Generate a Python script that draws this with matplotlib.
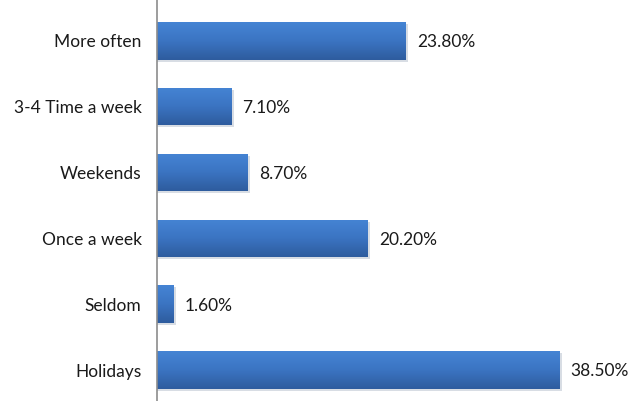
import numpy as np
import matplotlib
matplotlib.use("Agg")
import matplotlib.pyplot as plt
from matplotlib.colors import LinearSegmentedColormap

# Frequency categories, top to bottom, and their shares (%)
categories = ["More often", "3-4 Time a week", "Weekends", "Once a week", "Seldom", "Holidays"]
shares = [23.8, 7.1, 8.7, 20.2, 1.6, 38.5]
value_labels = ["23.80%", "7.10%", "8.70%", "20.20%", "1.60%", "38.50%"]

plt.rcParams["font.family"] = ["Lato", "DejaVu Sans"]

fig = plt.figure(figsize=(6.3, 4.01), dpi=100)
ax = fig.add_axes([0.249, 0.0, 0.751, 1.0])

y = np.arange(len(categories))
bar_h = 0.57
grad = LinearSegmentedColormap.from_list("bar", ["#4584d4", "#3b74c2", "#2e5c9e"])

bars = ax.barh(y, shares, height=bar_h, color="none", edgecolor="none", zorder=2)
for b in bars:
    x0, y0 = b.get_x(), b.get_y()
    w, h = b.get_width(), b.get_height()
    # soft drop shadow
    ax.add_patch(plt.Rectangle((x0, y0 + 0.03), w + 0.25, h, color="#bfc7d2",
                               alpha=0.6, zorder=1, lw=0))
    img = ax.imshow(np.linspace(0, 1, 64).reshape(-1, 1), cmap=grad, aspect="auto",
                    extent=(x0, x0 + w, y0 + h, y0), zorder=2)
    img.set_clip_path(b)

for yi, v, lab in zip(y, shares, value_labels):
    ax.text(v + 1.1, yi + 0.02, lab, va="center", ha="left", fontsize=12.5, color="#1a1a1a")

ax.set_xlim(0, 45.3)
ax.set_ylim(5.47, -0.62)
ax.set_yticks(y)
ax.set_yticklabels(categories, fontsize=12.5, color="#1a1a1a")
ax.tick_params(axis="y", length=0, pad=11)
ax.set_xticks([])
for side in ["top", "right", "bottom"]:
    ax.spines[side].set_visible(False)
ax.spines["left"].set_color("#8c8c8c")
ax.spines["left"].set_linewidth(1.2)

fig.savefig("out.png", dpi=100)
